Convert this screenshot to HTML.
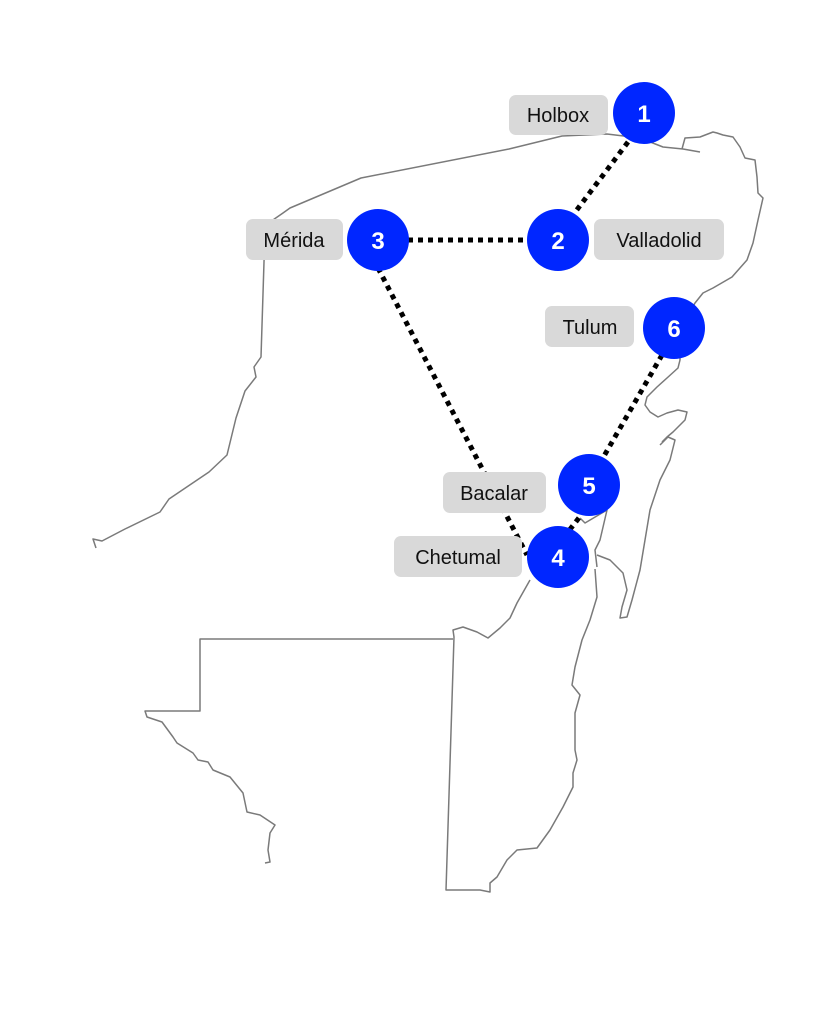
<!DOCTYPE html>
<html><head><style>
html,body{margin:0;padding:0;background:#fff;}
svg{display:block;}
.l{font-family:"Liberation Sans",sans-serif;font-size:20px;fill:#111;}
.n{font-family:"Liberation Sans Narrow","Liberation Sans",sans-serif;font-size:24px;font-weight:bold;fill:#fff;}
</style></head><body>
<svg width="819" height="1023" viewBox="0 0 819 1023" xmlns="http://www.w3.org/2000/svg">
<g fill="none" stroke="#7a7a7a" stroke-width="1.5" stroke-linejoin="round">
<path d="M96,548 L93,539 L102,541 L125,529 L160,512 L169,499 L209,472 L227,455 L236,418 L245,391 L256,377 L254,367 L261,357 L264,262 L265,235 L270,222 L283,213 L290,208 L361,178 L509,149 L562,136 L607,134 L640,138 L663,147 L683,149 L700,152"/>
<path d="M682,149 L685,138 L700,137 L713,132 L717,133 L723,135 L733,137 L740,147 L745,158 L755,160 L757,177 L758,193 L763,198 L758,220 L753,243 L747,260 L732,277 L713,288 L703,293 L695,303 L680,330 L680,360 L678,368 L667,378 L657,387 L647,397 L645,405 L650,412 L658,417 L667,413 L678,410 L687,412 L685,420 L673,432 L667,437 L662,442"/>
<path d="M660,445 L668,437 L675,440 L670,460 L660,480 L650,510 L645,540 L640,570 L632,600 L627,617 L620,618 L622,607 L627,590 L623,573 L610,560 L597,555"/>
<path d="M580,518 L585,523 L607,510 L600,540 L595,550 L597,567"/>
<path d="M530,580 L517,603 L510,618 L500,628 L488,638 L477,632 L463,627 L453,630 L454,637 L446,890 L480,890 L490,892 L490,883 L497,877 L507,860 L517,850 L537,848 L550,830 L563,807 L573,787 L573,773 L577,760 L575,750 L575,713 L580,695 L572,685 L575,667 L582,640 L590,620 L597,597 L595,569"/>
<path d="M453,639 L200,639 L200,711 L145,711 L147,717 L162,722 L173,737 L177,743 L193,753 L198,760 L208,762 L213,770 L230,777 L243,793 L247,812 L260,815 L275,825 L270,833 L268,850 L270,862 L265,863"/>
</g>
<g stroke="#000" stroke-width="5" stroke-dasharray="5 5" fill="none">
<line x1="628" y1="142" x2="573" y2="215"/>
<line x1="408" y1="240" x2="528" y2="240"/>
<line x1="378" y1="268" x2="527" y2="555"/>
<line x1="662" y1="355" x2="600" y2="463"/>
<line x1="585" y1="510" x2="568" y2="532"/>
</g>
<g fill="#d9d9d9">
<rect x="509" y="95" width="99" height="40" rx="7"/>
<rect x="246" y="219" width="97" height="41" rx="7"/>
<rect x="594" y="219" width="130" height="41" rx="7"/>
<rect x="545" y="306" width="89" height="41" rx="7"/>
<rect x="443" y="472" width="103" height="41" rx="7"/>
<rect x="394" y="536" width="128" height="41" rx="7"/>
</g>
<g class="l" text-anchor="middle">
<text x="558" y="122">Holbox</text>
<text x="294" y="247">Mérida</text>
<text x="659" y="247">Valladolid</text>
<text x="590" y="334">Tulum</text>
<text x="494" y="500">Bacalar</text>
<text x="458" y="564">Chetumal</text>
</g>
<g fill="#0026ff">
<circle cx="644" cy="113" r="31"/>
<circle cx="558" cy="240" r="31"/>
<circle cx="378" cy="240" r="31"/>
<circle cx="674" cy="328" r="31"/>
<circle cx="589" cy="485" r="31"/>
<circle cx="558" cy="557" r="31"/>
</g>
<g class="n" text-anchor="middle">
<text x="644" y="122">1</text>
<text x="558" y="249">2</text>
<text x="378" y="249">3</text>
<text x="674" y="337">6</text>
<text x="589" y="494">5</text>
<text x="558" y="566">4</text>
</g>
</svg>
</body></html>
